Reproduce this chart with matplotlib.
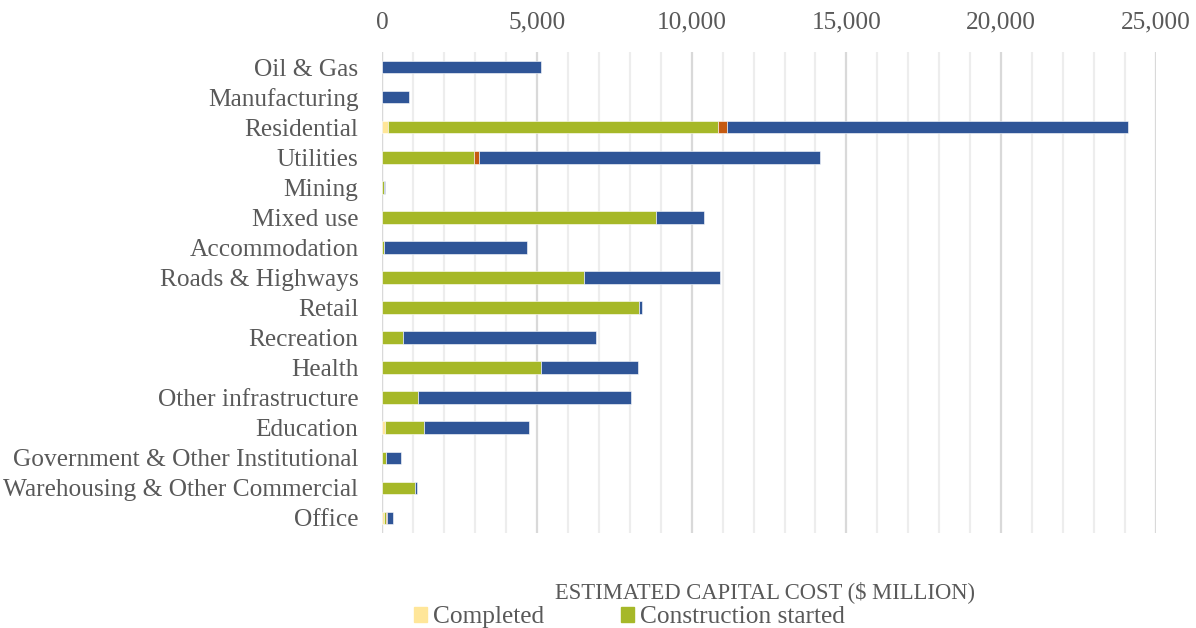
import matplotlib.pyplot as plt
import numpy as np
from matplotlib.ticker import MultipleLocator, FuncFormatter
from matplotlib.patches import Patch

plt.rcParams['font.family'] = ['Liberation Serif', 'DejaVu Serif']

sectors = ['Oil & Gas', 'Manufacturing', 'Residential', 'Utilities', 'Mining',
           'Mixed use', 'Accommodation', 'Roads & Highways', 'Retail', 'Recreation',
           'Health', 'Other infrastructure', 'Education',
           'Government & Other Institutional', 'Warehousing & Other Commercial', 'Office']

# $ million per project status
completed = [0, 0, 190, 0, 0, 0, 0, 0, 0, 0, 0, 0, 110, 0, 0, 80]
construction_started = [0, 0, 10660, 2970, 60, 8850, 60, 6525, 8300, 680,
                        5135, 1160, 1240, 120, 1070, 50]
on_hold = [0, 0, 280, 170, 0, 0, 0, 0, 0, 0, 0, 0, 0, 0, 0, 40]
planning = [5150, 870, 12975, 11000, 40, 1560, 4630, 4390, 100, 6235,
            3130, 6880, 3400, 485, 75, 180]

series = [('Completed', completed, '#ffe699'),
          ('Construction started', construction_started, '#a6b828'),
          ('On hold', on_hold, '#c55a11'),
          ('Planning', planning, '#2f5597')]

text_col = '#595959'
fs = 18.3

fig = plt.figure(figsize=(11.96, 6.28), dpi=100)
ax = fig.add_axes([0.3194, 0.1513, 0.6472, 0.7659])

y = np.arange(len(sectors))
left = np.zeros(len(sectors))
for name, vals, col in series:
    vals = np.array(vals, dtype=float)
    ax.barh(y, vals, left=left, height=0.42, color=col, edgecolor='white',
            linewidth=0.4, label=name, zorder=3)
    left += vals

ax.set_ylim(len(sectors) - 0.5, -0.5)
ax.set_yticks(y)
ax.set_yticklabels(sectors)
ax.set_xlim(0, 25000)
ax.xaxis.set_major_locator(MultipleLocator(5000))
ax.xaxis.set_minor_locator(MultipleLocator(1000))
ax.xaxis.set_major_formatter(FuncFormatter(lambda v, p: f'{int(v):,}'))
ax.xaxis.tick_top()
ax.tick_params(axis='both', which='both', length=0, labelsize=fs, colors=text_col)
ax.tick_params(axis='x', pad=13)
ax.tick_params(axis='y', pad=17)

ax.grid(axis='x', which='minor', color='#ededed', linewidth=1.6, zorder=0)
ax.grid(axis='x', which='major', color='#d9d9d9', linewidth=1.6, zorder=0)
for s in ax.spines.values():
    s.set_visible(False)
ax.axvline(0, color='#d9d9d9', linewidth=1.6, zorder=1)

fig.text(0.6395, 0.057, 'ESTIMATED CAPITAL COST ($ MILLION)', ha='center', va='center',
         fontsize=16.3, color=text_col)

handles = [Patch(color=c, label=n) for n, _, c in series[:2]]
fig.legend(handles=handles, loc='center left', bbox_to_anchor=(0.346, 0.017),
           ncol=2, frameon=False, fontsize=fs, labelcolor=text_col,
           handlelength=0.53, handleheight=0.53, handletextpad=0.24, columnspacing=3.0,
           borderpad=0, borderaxespad=0)

fig.savefig('out.png', dpi=100)
